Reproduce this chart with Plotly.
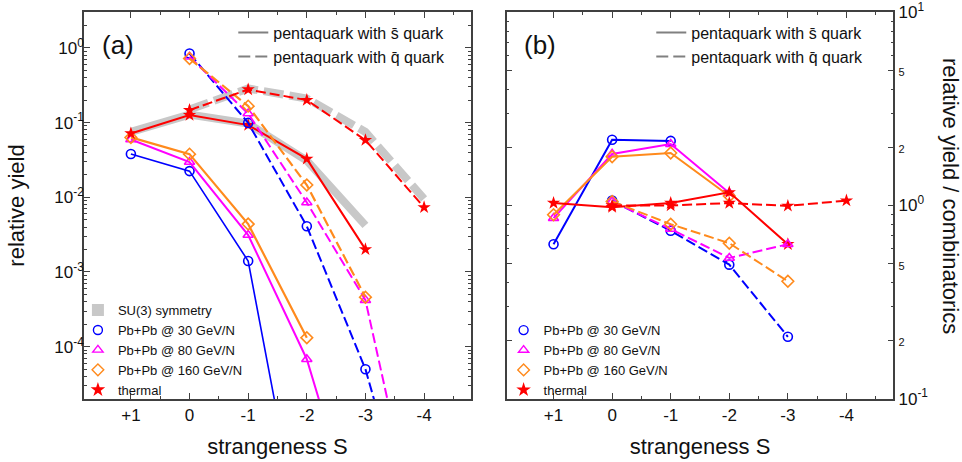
import math
import plotly.graph_objects as go

# ---------------- data ----------------
S_TICKS = [1, 0, -1, -2, -3, -4]
S_TICKTEXT = ["+1", "0", "-1", "-2", "-3", "-4"]
S_MINOR = [0.5, -0.5, -1.5, -2.5, -3.5, -4.5]

# panel (a): relative yield
S_SBAR = [1, 0, -1, -2, -3]          # pentaquark with s-bar quark
S_QBAR = [0, -1, -2, -3, -4]         # pentaquark with q-bar quark

su3_sbar = [0.075, 0.128, 0.097, 0.031, 0.0042]
su3_qbar = [0.15, 0.286, 0.21, 0.075, 0.0095]

pb30_sbar = [0.038, 0.0224, 0.0014, 1.0e-7]
pb80_sbar = [0.0594, 0.0296, 0.00312, 6.8e-5, 1.7e-7]
pb160_sbar = [0.0633, 0.0378, 0.00438, 1.32e-4]
thermal_sbar = [0.0715, 0.126, 0.0925, 0.0327, 0.00201]

pb30_qbar = [0.84, 0.099, 0.0041, 5.0e-5, 8.7e-8]
pb80_qbar = [0.76, 0.132, 0.0085, 4.2e-4, 1.2e-7]
pb160_qbar = [0.72, 0.166, 0.0146, 4.6e-4]
thermal_qbar = [0.147, 0.277, 0.2, 0.0582, 0.00733]

# panel (b): relative yield / combinatorics
r30_sbar = [0.63, 2.19, 2.16]
r80_sbar = [0.86, 1.85, 2.08, 1.16]
r160_sbar = [0.895, 1.79, 1.87, 1.12]
rthermal_sbar = [1.03, 0.98, 1.03, 1.17, 0.63]

r30_qbar = [1.06, 0.74, 0.494, 0.209]
r80_qbar = [1.05, 0.755, 0.535, 0.63]
r160_qbar = [1.05, 0.80, 0.638, 0.405]
rthermal_qbar = [1.0, 1.0, 1.03, 0.995, 1.06]

REF_RATIO = 1.0

YA_TICKS = [1, 0.1, 0.01, 0.001, 0.0001]
YA_TICKTEXT = ["10<sup>0</sup>", "10<sup>-1</sup>", "10<sup>-2</sup>", "10<sup>-3</sup>", "10<sup>-4</sup>"]
YB_TICKS = [10, 5, 2, 1, 0.5, 0.2, 0.1]
YB_TICKTEXT = ["10<sup>1</sup>", "<span style='font-size:11px'>5</span>", "<span style='font-size:11px'>2</span>",
               "10<sup>0</sup>", "<span style='font-size:11px'>5</span>", "<span style='font-size:11px'>2</span>",
               "10<sup>-1</sup>"]

# ---------------- style ----------------
BLUE = "#0000ff"
MAGENTA = "#ff00ff"
ORANGE = "#ff8a1c"
RED = "#ff0000"
GRAY = "#c8c8c8"
AXC = "#404040"
FONT = "Liberation Sans, Arial, sans-serif"
DASH = "10px,4px"
GRAY_DASH = "20px,6px"

fig = go.Figure()

def minor_log(lo, hi):
    vals = []
    for e in range(lo, hi):
        for m in range(2, 10):
            vals.append(m * 10 ** e)
    return vals

# SU(3) gray bands (panel a)
fig.add_trace(go.Scatter(x=S_SBAR, y=su3_sbar, mode="lines", line=dict(color=GRAY, width=8),
                         showlegend=False, xaxis="x", yaxis="y"))
fig.add_trace(go.Scatter(x=S_QBAR, y=su3_qbar, mode="lines", line=dict(color=GRAY, width=8, dash=GRAY_DASH),
                         showlegend=False, xaxis="x", yaxis="y"))

def series(xs, ys, color, symbol, dash, axis, width=2, size=9):
    xa, ya = ("x", "y") if axis == "a" else ("x2", "y2")
    if symbol == "star":
        marker = dict(symbol="star", size=10, color=color, line=dict(width=0))
    else:
        marker = dict(symbol=symbol, size=size, color=color, line=dict(width=1.6, color=color))
    fig.add_trace(go.Scatter(x=xs, y=ys, mode="lines+markers", line=dict(color=color, width=width, dash=dash),
                             marker=marker, showlegend=False, xaxis=xa, yaxis=ya))

# panel a
series(S_SBAR[:4], pb30_sbar, BLUE, "circle-open", "solid", "a", 1.6)
series(S_SBAR, pb80_sbar, MAGENTA, "triangle-up-open", "solid", "a")
series(S_SBAR[:4], pb160_sbar, ORANGE, "diamond-open", "solid", "a", 2.2)
series(S_SBAR, thermal_sbar, RED, "star", "solid", "a")
series(S_QBAR, pb30_qbar, BLUE, "circle-open", DASH, "a")
series(S_QBAR, pb80_qbar, MAGENTA, "triangle-up-open", DASH, "a")
series(S_QBAR[:4], pb160_qbar, ORANGE, "diamond-open", DASH, "a", 2.2)
series(S_QBAR, thermal_qbar, RED, "star", DASH, "a")

# panel b
series(S_SBAR[:3], r30_sbar, BLUE, "circle-open", "solid", "b")
series(S_SBAR[:4], r80_sbar, MAGENTA, "triangle-up-open", "solid", "b")
series(S_SBAR[:4], r160_sbar, ORANGE, "diamond-open", "solid", "b")
series(S_SBAR, rthermal_sbar, RED, "star", "solid", "b")
series(S_QBAR[:4], r30_qbar, BLUE, "circle-open", DASH, "b")
series(S_QBAR[:4], r80_qbar, MAGENTA, "triangle-up-open", DASH, "b")
series(S_QBAR[:4], r160_qbar, ORANGE, "diamond-open", DASH, "b")
series(S_QBAR, rthermal_qbar, RED, "star", DASH, "b")

# legend entries
def leg_line(name, dash, legend):
    fig.add_trace(go.Scatter(x=[None], y=[None], mode="lines", name=name,
                             line=dict(color="#808080", width=2, dash=dash), legend=legend))

def leg_marker(name, symbol, color, legend, size=9):
    if symbol in ("star", "square"):
        mk = dict(symbol=symbol, size=size, color=color, line=dict(width=0))
    else:
        mk = dict(symbol=symbol, size=size, color=color, line=dict(width=1.4, color=color))
    fig.add_trace(go.Scatter(x=[None], y=[None], mode="markers", name=name, marker=mk, legend=legend))

for lg in ("legend", "legend3"):
    leg_line("pentaquark with s\u0304 quark", "solid", lg)
    leg_line("pentaquark with q\u0304 quark", "12px,5px", lg)

leg_marker("SU(3) symmetry", "square", GRAY, "legend2", 12)
for lg in ("legend2", "legend4"):
    leg_marker("Pb+Pb @ 30 GeV/N", "circle-open", BLUE, lg)
    leg_marker("Pb+Pb @ 80 GeV/N", "triangle-up-open", MAGENTA, lg)
    leg_marker("Pb+Pb @ 160 GeV/N", "diamond-open", ORANGE, lg)
    leg_marker("thermal", "star", RED, lg, 11)

xcommon = dict(range=[1.8, -4.8], tickmode="array", tickvals=S_TICKS, ticktext=S_TICKTEXT,
               ticks="inside", ticklen=6, tickcolor=AXC, showline=True, linecolor=AXC, linewidth=1.5,
               mirror="ticks", showgrid=False, zeroline=False, automargin=False,
               minor=dict(tickmode="array", tickvals=S_MINOR, ticks="inside", ticklen=3, tickcolor=AXC),
               tickfont=dict(size=17, color="#111"),
               title=dict(text="strangeness S", font=dict(size=22, color="#111"), standoff=14))

yb_minor = [v for v in minor_log(-1, 1) if v not in (2, 5, 0.2, 0.5)]

leg_common = dict(bgcolor="rgba(0,0,0,0)", borderwidth=0, itemwidth=30,
                  font=dict(family=FONT, size=13, color="#111"), tracegroupgap=0, itemclick=False)
leg_top = dict(leg_common, font=dict(family=FONT, size=16, color="#111"))

fig.update_layout(
    width=962, height=462,
    margin=dict(l=0, r=0, t=0, b=0, autoexpand=False),
    paper_bgcolor="white", plot_bgcolor="white",
    font=dict(family=FONT, color="#111"),
    xaxis=dict(domain=[0.0873, 0.4896], anchor="y", **xcommon),
    xaxis2=dict(domain=[0.5267, 0.9286], anchor="y2", **xcommon),
    yaxis=dict(type="log", domain=[0.1364, 0.974], anchor="x", range=[-4.70, 0.48],
               tickmode="array", tickvals=YA_TICKS, ticktext=YA_TICKTEXT,
               ticks="inside", ticklen=6, tickcolor=AXC, showline=True, linecolor=AXC, linewidth=1.5,
               mirror="ticks", showgrid=False, zeroline=False, automargin=False, ticklabelstandoff=-5,
               minor=dict(tickmode="array", tickvals=minor_log(-5, 1), ticks="inside", ticklen=3, tickcolor=AXC),
               tickfont=dict(size=17, color="#111"),
               title=dict(text="relative yield", font=dict(size=22, color="#111"), standoff=24)),
    yaxis2=dict(type="log", domain=[0.1364, 0.974], anchor="x2", side="right", range=[-1.002, 1.002],
                tickmode="array", tickvals=YB_TICKS, ticktext=YB_TICKTEXT,
                ticks="inside", ticklen=6, tickcolor=AXC, showline=True, linecolor=AXC, linewidth=1.5,
                mirror="ticks", showgrid=False, zeroline=False, automargin=False,
                minor=dict(tickmode="array", tickvals=yb_minor, ticks="inside", ticklen=3, tickcolor=AXC),
                tickfont=dict(size=17, color="#111")),
    legend=dict(x=0.2425, y=0.966, xanchor="left", yanchor="top", **leg_top),
    legend2=dict(x=0.081, y=0.123, xanchor="left", yanchor="bottom", **leg_common),
    legend3=dict(x=0.677, y=0.966, xanchor="left", yanchor="top", **leg_top),
    legend4=dict(x=0.5235, y=0.123, xanchor="left", yanchor="bottom", **leg_common),
    shapes=[dict(type="line", xref="x2 domain", x0=0, x1=1, yref="y2",
                 y0=math.log10(REF_RATIO), y1=math.log10(REF_RATIO),
                 line=dict(color="#b4b4b4", width=1.5), layer="below")],
    annotations=[
        dict(text="(a)", xref="paper", yref="paper", x=0.104, y=0.903, xanchor="left", yanchor="middle",
             showarrow=False, font=dict(size=26, color="#111")),
        dict(text="(b)", xref="paper", yref="paper", x=0.543, y=0.903, xanchor="left", yanchor="middle",
             showarrow=False, font=dict(size=26, color="#111")),
        dict(text="relative yield / combinatorics", xref="paper", yref="paper", x=0.988, y=0.575,
             xanchor="center", yanchor="middle", textangle=90, showarrow=False,
             font=dict(size=22, color="#111")),
    ],
)

fig.write_html("out.html", config={"displayModeBar": False},
               post_script="document.body.style.margin='0';")
